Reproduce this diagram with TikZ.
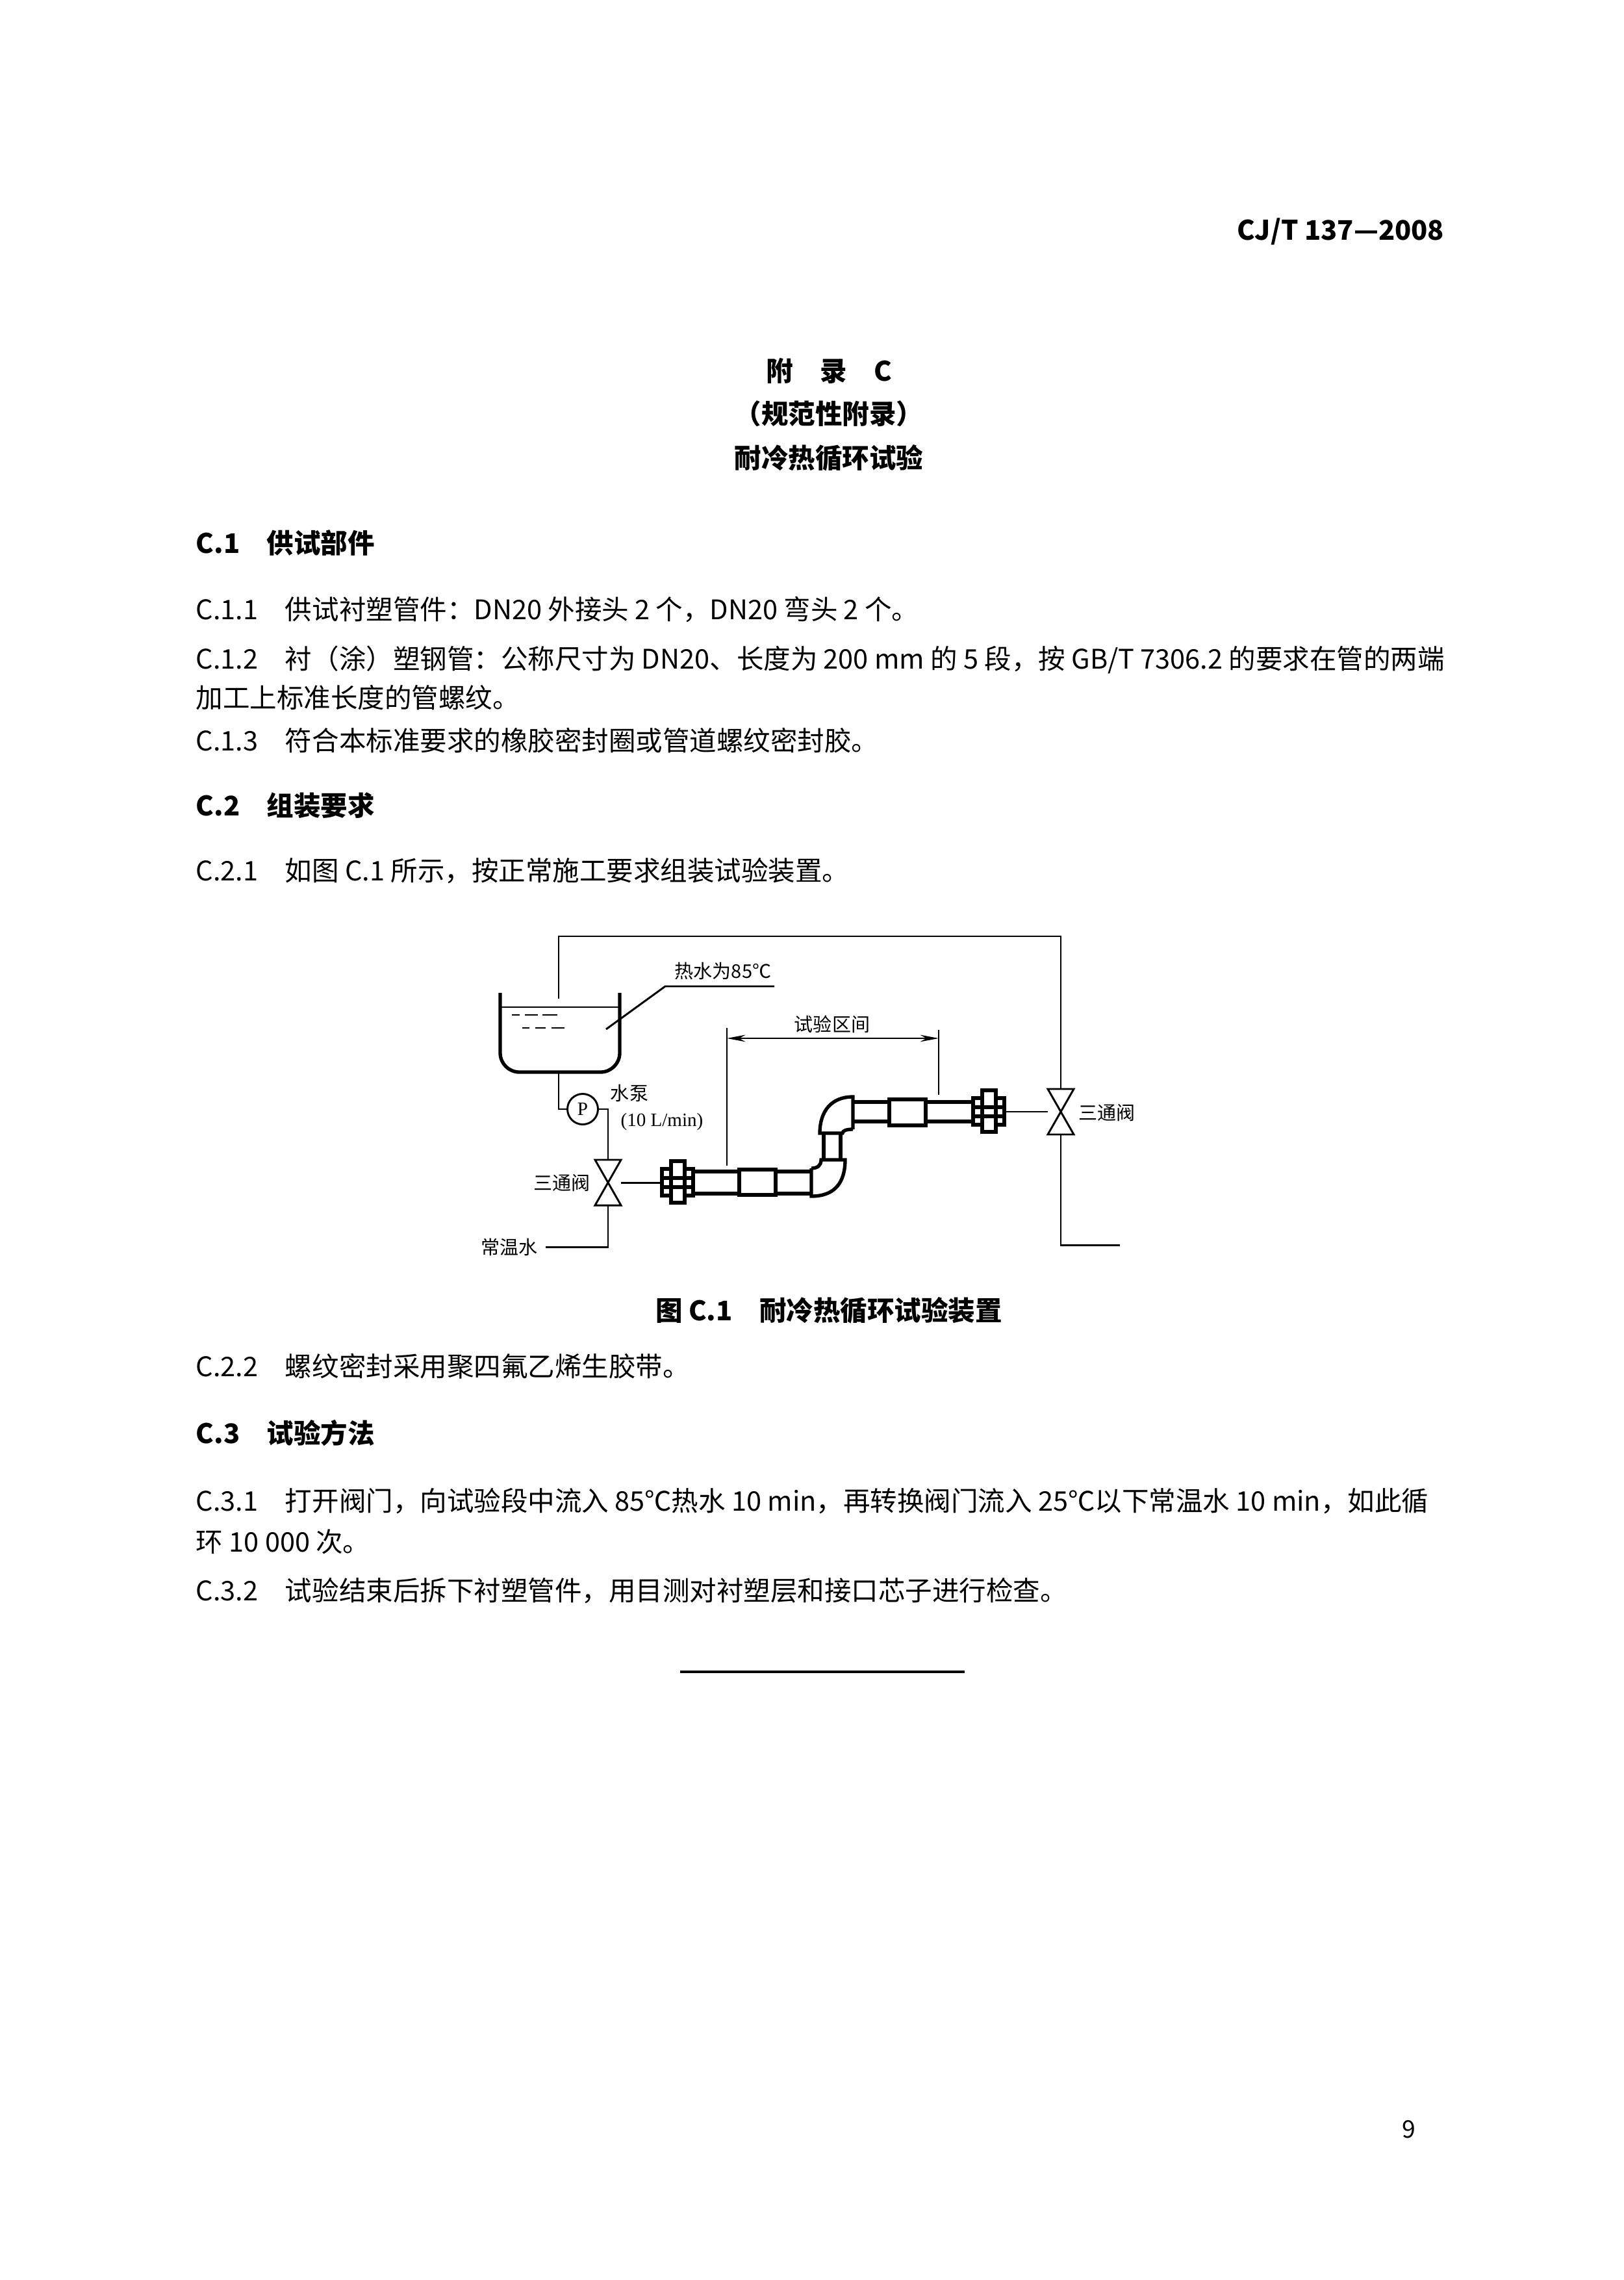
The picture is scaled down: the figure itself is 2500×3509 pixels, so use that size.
\documentclass[tikz,border=0pt]{standalone}
\usepackage{fontspec}
\setmainfont{Noto Sans CJK SC}
\newfontfamily\serifrm{Liberation Serif}
\usetikzlibrary{arrows.meta}

\tikzset{
    pipe/.style={line width=0.45mm},
    thinline/.style={line width=0.25mm},
    lbl/.style={font=\fontsize{7}{8}\selectfont, inner sep=0pt},
    body/.style={font=\fontsize{10}{12}\selectfont, anchor=west, inner sep=0pt},
    head/.style={font=\fontsize{10}{12}\selectfont\bfseries, inner sep=0pt}
}

% hourglass valve at (x,y)
\newcommand{\valvebox}[2]{%
    \draw[thinline,fill=white] (#1-20,#2-35) -- (#1+20,#2-35) -- (#1-20,#2+35) -- (#1+20,#2+35) -- cycle;
}
% union joint, left edge x, centre y
\newcommand{\unionbox}[2]{%
    \draw[pipe,fill=white] (#1,#2-21) rectangle (#1+48,#2+20);
    \draw[pipe] (#1,#2-7) -- (#1+48,#2-7);
    \draw[pipe] (#1,#2+7) -- (#1+48,#2+7);
    \draw[pipe,fill=white] (#1+14,#2-33) rectangle (#1+35,#2+31);
    \draw[pipe] (#1+14,#2-7) -- (#1+35,#2-7);
    \draw[pipe] (#1+14,#2+7) -- (#1+35,#2+7);
}

\begin{document}
\begin{tikzpicture}[x=0.08467mm,y=-0.08467mm]
    \useasboundingbox (0,0) rectangle (2500,3509);

    % Page header and headings
    \node[font=\fontsize{10}{12}\selectfont\bfseries, anchor=east, inner sep=0pt] (hdr) at (2224,356) {CJ/T 137—2008};
    \node[head] (app) at (1276,571) {附\quad 录\quad C};
    \node[head] (norm) at (1276,637) {（规范性附录）};
    \node[head] (ttl) at (1276,705) {耐冷热循环试验};

    % Text body
    \node[body,font=\fontsize{10}{12}\selectfont\bfseries] (c1) at (301,836) {C.1\quad 供试部件};
    \node[body] (c11) at (301,938) {C.1.1\quad 供试衬塑管件：DN20 外接头 2 个，DN20 弯头 2 个。};
    \node[body] (c12) at (301,1015) {C.1.2\quad 衬（涂）塑钢管：公称尺寸为 DN20、长度为 200 mm 的 5 段，按 GB/T 7306.2 的要求在管的两端};
    \node[body] (c12b) at (301,1074) {加工上标准长度的管螺纹。};
    \node[body] (c13) at (301,1140) {C.1.3\quad 符合本标准要求的橡胶密封圈或管道螺纹密封胶。};
    \node[body,font=\fontsize{10}{12}\selectfont\bfseries] (c2) at (301,1240) {C.2\quad 组装要求};
    \node[body] (c21) at (301,1340) {C.2.1\quad 如图 C.1 所示，按正常施工要求组装试验装置。};

    % Figure: loop line, tank
    \coordinate (tin) at (860,1537);
    \coordinate (tc) at (860,1441);
    \coordinate (rc) at (1633,1441);
    \draw[thinline] (tin) -- (tc) -- (rc) -- (1633,1676);
    \draw[pipe, rounded corners=2.5mm] (770,1528) -- (770,1650) -- (954,1650) -- (954,1528);
    \draw[thinline] (770,1550) -- (954,1550);
    \foreach \a/\b in {788/800, 808/828, 835/858}
        \draw[thinline] (\a,1562) -- (\b,1562);
    \foreach \a/\b in {804/815, 824/840, 849/869}
        \draw[thinline] (\a,1582) -- (\b,1582);
    \draw[thinline] (933,1584) -- (1024,1518) -- (1192,1518);
    \node[lbl] (hot) at (1113,1494) {热水为85℃};

    % Pump and left valve
    \node[draw, circle, thinline, minimum size=47*0.08467mm, inner sep=0pt, font=\fontsize{7}{8}\selectfont\serifrm] (pump) at (897,1707) {P};
    \draw[thinline] (860,1650) |- (pump.west);
    \draw[thinline] (pump.east) -| (936,1785);
    \node[lbl] (pumptxt) at (969,1682) {水泵};
    \node[lbl,font=\fontsize{7}{8}\selectfont\serifrm] (flow) at (1019,1726) {(10 L/min)};
    \valvebox{936}{1820}
    \node[lbl] (vl) at (865,1821) {三通阀};
    \coordinate (cw) at (840,1919);
    \draw[thinline] (936,1855) |- (cw);
    \node[lbl, anchor=east] (cold) at (828,1919) {常温水};
    \draw[thinline] (956,1820) -- (1019,1820);

    % Lower pipe run
    \unionbox{1019}{1820}
    \draw[pipe] (1067,1803) -- (1138,1803) (1067,1837) -- (1138,1837);
    \draw[pipe] (1138,1800) rectangle (1194,1839);
    \draw[pipe] (1194,1803) -- (1249,1803) (1194,1837) -- (1249,1837);
    % lower elbow
    \draw[pipe] (1249,1798) -- (1249,1841) .. controls (1285,1841) and (1301,1820) .. (1301,1785)
        -- (1264,1785) .. controls (1264,1794) and (1258,1798) .. (1249,1798);
    \draw[pipe] (1268,1785) -- (1268,1744) (1294,1785) -- (1294,1744);
    % upper elbow
    \draw[pipe] (1313,1738) -- (1313,1688) .. controls (1280,1688) and (1262,1710) .. (1262,1744)
        -- (1297,1744) .. controls (1297,1740) and (1303,1738) .. (1313,1738);

    % Upper pipe run
    \draw[pipe] (1313,1696) -- (1369,1696) (1313,1726) -- (1369,1726);
    \draw[pipe] (1369,1692) rectangle (1425,1732);
    \draw[pipe] (1425,1696) -- (1498,1696) (1425,1726) -- (1498,1726);
    \unionbox{1498}{1711}
    \draw[thinline] (1548,1711) -- (1613,1711);

    % Right valve
    \valvebox{1633}{1711}
    \node[lbl] (vr) at (1704,1713) {三通阀};
    \coordinate (out) at (1724,1916);
    \draw[thinline] (1633,1746) |- (out);

    % Test section dimension
    \draw[thinline] (1119,1582) -- (1119,1794);
    \draw[thinline] (1445,1585) -- (1445,1685);
    \draw[thinline, {Stealth[length=2.4mm, width=0.9mm]}-{Stealth[length=2.4mm, width=0.9mm]}] (1119,1598) -- (1445,1598);
    \node[lbl] (sect) at (1281,1576) {试验区间};

    % Caption
    \node[head] (cap) at (1276,2017) {图 C.1\quad 耐冷热循环试验装置};

    \node[body] (c22) at (301,2103) {C.2.2\quad 螺纹密封采用聚四氟乙烯生胶带。};
    \node[body,font=\fontsize{10}{12}\selectfont\bfseries] (c3) at (301,2205) {C.3\quad 试验方法};
    \node[body] (c31) at (301,2310) {C.3.1\quad 打开阀门，向试验段中流入 85℃热水 10 min，再转换阀门流入 25℃以下常温水 10 min，如此循};
    \node[body] (c31b) at (301,2373) {环 10 000 次。};
    \node[body] (c32) at (301,2448) {C.3.2\quad 试验结束后拆下衬塑管件，用目测对衬塑层和接口芯子进行检查。};

    % End rule and page number
    \draw[line width=0.35mm] (1047,2573) -- (1485,2573);
    \node[font=\fontsize{9}{10}\selectfont, inner sep=0pt] (pg) at (2169,3277) {9};
\end{tikzpicture}
\end{document}
